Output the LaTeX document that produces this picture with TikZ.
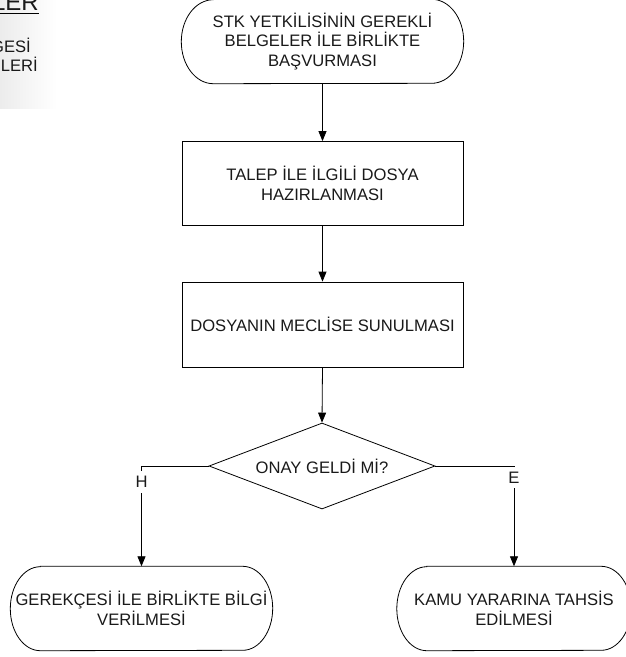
\documentclass[tikz,border=0pt]{standalone}
\usepackage{fontspec}
\setmainfont{Liberation Sans}
\usetikzlibrary{arrows.meta,shapes.geometric}
\newcommand\termoutline[3]{% node, x radius, y radius
  \draw[line width=0.8pt] ([xshift=#2]#1.north west) -- ([xshift=-#2]#1.north east)
    arc[start angle=90,end angle=-90,x radius=#2,y radius=#3]
    -- ([xshift=#2]#1.south west)
    arc[start angle=270,end angle=90,x radius=#2,y radius=#3] -- cycle;}
\begin{document}
\begin{tikzpicture}[x=1pt,y=-1pt,
  base/.style={font=\fontsize{16.6pt}{19.5pt}\selectfont, text=black!90, align=center, inner sep=0pt},
  termbox/.style={base, minimum width=#1, minimum height=84pt},
  procbox/.style={base, draw, line width=0.8pt, minimum width=281pt, minimum height=84pt},
  decbox/.style={base, draw, diamond, aspect=2.6, minimum width=226pt, minimum height=86pt, line width=0.8pt},
  conn/.style={line width=0.8pt, -{Triangle[length=10pt,width=8pt]}},
  lbl/.style={base, fill=white, inner xsep=1pt, inner ysep=5pt}
]
\useasboundingbox (0,0) rectangle (625,657);
% partial header panel at top left
\shade[left color=gray!15, right color=white] (0,0) rectangle (57,108);
\node[base, anchor=base east, font=\fontsize{24pt}{28pt}\selectfont] (hdr) at (39,10) {ELER};
\draw[line width=0.8pt] (0,13) -- (hdr.east |- 0,13);
\node[base, anchor=base east] (h1) at (31,52) {GESİ};
\node[base, anchor=base east] (h2) at (38,71) {ÜLERİ};

% nodes
\node[termbox=282pt] (t1) at (322.5,41.5) {STK YETKİLİSİNİN GEREKLİ\\BELGELER İLE BİRLİKTE\\BAŞVURMASI};
\termoutline{t1}{32pt}{42pt}
\node[procbox] (r1) at (322.5,183.5) {TALEP İLE İLGİLİ DOSYA\\HAZIRLANMASI};
\node[procbox, minimum height=85pt] (r2) at (322.5,324.5) {DOSYANIN MECLİSE SUNULMASI};
\node[decbox] (d) at (322,466) {ONAY GELDİ Mİ?};
\node[termbox=262pt] (b1) at (141.5,608.5) {GEREKÇESİ İLE BİRLİKTE BİLGİ\\VERİLMESİ};
\termoutline{b1}{30pt}{42pt}
\node[termbox=234pt] (b2) at (514,608.5) {KAMU YARARINA TAHSİS\\EDİLMESİ};
\termoutline{b2}{30pt}{42pt}

% connectors
\draw[conn] (t1.south) -- (r1.north);
\draw[conn] (r1.south) -- (r2.north);
\draw[conn] (r2.south) -- (d.north);
\draw[conn] (d.west) -| node[lbl, pos=0.58] {H} (b1.north);
\draw[conn] (d.east) -| node[lbl, pos=0.557] {E} (b2.north);
\end{tikzpicture}
\end{document}
